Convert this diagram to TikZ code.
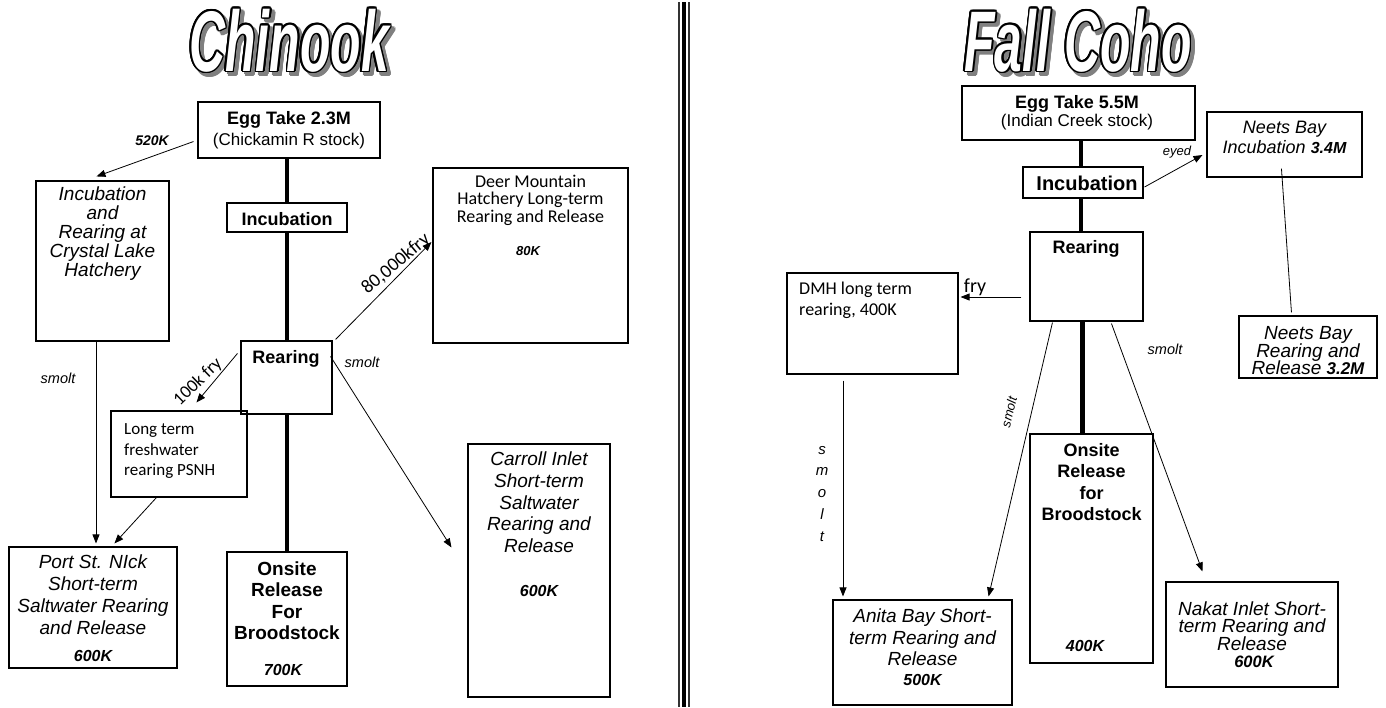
\documentclass[tikz,border=0pt]{standalone}
\usepackage{fontspec}
\setmainfont{Liberation Sans}
\newfontfamily\calfont{Carlito}
\usetikzlibrary{arrows.meta,fit,calc}
\newcommand\fz[1]{\fontsize{#1}{#1}\selectfont}
\newcommand\lines[6][]{\foreach \tx [count=\i from 0] in {#6} {\node[anchor=base,inner sep=0pt,#1] (#2-\i) at (#3,{#4+\i*#5}) {\tx};}}
\newcommand\ttlbox[1]{\scalebox{0.58}[1]{\fz{86}\bfseries\itshape #1}}
\newcommand\ttl[4]{%
  \foreach \a in {0,30,...,330} {\node[anchor=base,inner sep=0pt,text=black!50] (#1-s\a) at ($(#2,#3)+(3.5,3.5)+(\a:1.8pt)$) {\ttlbox{#4}};}
  \foreach \a in {0,22.5,...,337.5} {\node[anchor=base,inner sep=0pt,text=black] (#1-o\a) at ($(#2,#3)+(\a:1.6pt)$) {\ttlbox{#4}};}
  \node[anchor=base,inner sep=0pt,text=white] (#1) at (#2,#3) {\ttlbox{#4}};}
\begin{document}
\begin{tikzpicture}[x=1pt,y=-1pt,
  box/.style={draw=black,line width=1.1pt,inner sep=0pt},
  spine/.style={line width=4.5pt},
  arr/.style={-{Triangle[length=9pt,width=7pt]},line width=0.8pt},
  ln/.style={line width=0.8pt},
  lab/.style={inner sep=0pt}]
\useasboundingbox (0,0) rectangle (1386,707);
% titles
\ttl{tchin}{289}{71}{Chinook}
\ttl{tcoho}{1078}{71}{Fall Coho}
% divider
\draw[line width=1.5pt,black!80] (679.2,2) -- (679.2,707);
\draw[line width=4pt] (684,2) -- (684,707);
\draw[line width=1.5pt,black!80] (688.8,2) -- (688.8,707);
% ---------- left boxes
\node[box,fit={(198,102) (380,158)}] (eggL) {};
\node[box,fit={(36,181) (169,341)}] (crystal) {};
\node[box,fit={(227,203) (347,232)}] (incL) {};
\node[box,fit={(241,341) (332,414)}] (rearL) {};
\node[box,fit={(227,552) (347,686)}] (onsiteL) {};
\node[box,fit={(9,547) (177,668)}] (port) {};
\node[box,fit={(111,411) (247,497)}] (longt) {};
\node[box,fit={(468,444) (610,697)}] (carroll) {};
\node[box,fit={(433,168) (628,343)}] (deer) {};
% ---------- right boxes
\node[box,fit={(962,86) (1195,140)}] (eggR) {};
\node[box,fit={(1023,167) (1143,198)}] (incR) {};
\node[box,fit={(1030,232) (1143,321)}] (rearR) {};
\node[box,fit={(787,273) (958,374)}] (dmh) {};
\node[box,fit={(833,600) (1012,705)}] (anita) {};
\node[box,fit={(1030,434) (1153,663)}] (onsiteR) {};
\node[box,fit={(1166,582) (1338,687)}] (nakat) {};
\node[box,fit={(1207,112) (1362,177)}] (neetsI) {};
\node[box,fit={(1239,316) (1377,378)}] (neetsR) {};
% ---------- spines
\draw[spine] (incL.north |- eggL.south) -- (incL.north);
\draw[spine] (incL.south) -- (incL.south |- rearL.north);
\draw[spine] (incL.south |- rearL.south) -- (incL.south |- onsiteL.north);
\coordinate (spR) at (1081,0);
\coordinate (spR2) at (1082.5,0);
\draw[spine] (spR |- eggR.south) -- (spR |- incR.north);
\draw[spine] (spR |- incR.south) -- (spR |- rearR.north);
\draw[spine] (spR2 |- rearR.south) -- (spR2 |- onsiteR.north);
% ---------- left connectors
\draw[arr] ($(eggL.south west)+(-4,-17)$) -- ($(crystal.north west)+(61,-4)$);
\draw[arr] ($(rearL.north east)+(3,-1)$) -- ($(deer.west)+(-1,-13.5)$);
\draw[arr] ($(rearL.north west)+(-3,13)$) -- ($(longt.north west)+(86,-8)$);
\coordinate (cs) at ($(crystal.south)+(-6.5,0)$);
\draw[arr,shorten >=3pt] (cs) -- (cs |- port.north);
\draw[arr] ($(longt.south west)+(46,0)$) -- ($(port.north west)+(106,-3)$);
\draw[arr] ($(rearL.north east)+(-2,16)$) -- ($(carroll.north west)+(-16,104)$);
% ---------- right connectors
\draw[arr] ($(rearR.west)+(-8,20.5)$) -- ($(dmh.east)+(2,-26.5)$);
\draw[arr] ($(incR.east)+(1,4.5)$) -- ($(neetsI.west)+(-4,10.5)$);
\draw[ln] ($(neetsI.south west)+(75,-9)$) -- ($(neetsR.north west)+(53,-3)$);
\coordinate (ds) at ($(dmh.south)+(-29.5,6)$);
\draw[arr,shorten >=3pt] (ds) -- (ds |- anita.north);
\draw[arr] ($(rearR.south west)+(23,1)$) -- ($(anita.north east)+(-24,-3)$);
\draw[arr] ($(rearR.south west)+(82,2)$) -- ($(nakat.north west)+(37,-10)$);
% ---------- left texts
\node[anchor=base,lab,font={\fz{18}\bfseries}] (eggL-t) at (289,124) {Egg Take 2.3M};
\node[anchor=base,lab,font={\fz{17}}] (eggL-s) at (289,145) {(Chickamin R stock)};
\node[anchor=base,lab,font={\fz{18}\bfseries}] (incL-t) at (287,225) {Incubation};
\node[anchor=base,lab,font={\fz{18}\bfseries}] (rearL-t) at (286,363) {Rearing};
\lines[font={\fz{19}\itshape}]{cr}{102.5}{200}{19}{Incubation,and,Rearing at,Crystal Lake,Hatchery}
\lines[font={\fz{19}\itshape}]{pt}{93}{568.3}{22}{Port St. NIck,Short-term,Saltwater Rearing,and Release}
\node[anchor=base,lab,font={\fz{16}\bfseries\itshape}] (pt-k) at (93,661.7) {600K};
\lines[font={\fz{19}\bfseries}]{onL}{287}{575}{21.5}{Onsite,Release,For,Broodstock}
\node[anchor=base,lab,font={\fz{16}\bfseries\itshape}] (onL-k) at (283,675) {700K};
\lines[font={\fz{17}\calfont},anchor=base west]{lt}{124}{434.5}{20.5}{Long term,freshwater,rearing PSNH}
\lines[font={\fz{19}\itshape}]{ci}{539}{465.7}{21.7}{Carroll Inlet,Short-term,Saltwater,Rearing and,Release}
\node[anchor=base,lab,font={\fz{16}\bfseries\itshape}] (ci-k) at (539,596.7) {600K};
\lines[font={\fz{18}\calfont}]{dm}{530.5}{187.3}{17.5}{Deer Mountain,Hatchery Long-term,Rearing and Release}
\node[anchor=base,lab,font={\fz{13}\bfseries\itshape}] (dm-k) at (528,255.7) {80K};
% left labels
\node[lab,font={\fz{14}\bfseries\itshape}] (l520) at (152,141) {520K};
\node[lab,font={\fz{14.5}\itshape}] (lsm1) at (58,378) {smolt};
\node[lab,font={\fz{19}\calfont},rotate=40] (l80) at (396,264) {80,000kfry};
\node[lab,font={\fz{18}\calfont},rotate=44] (l100) at (198,382) {100k fry};
\node[lab,font={\fz{14.5}\itshape}] (lsm2) at (362,362) {smolt};
% ---------- right texts
\node[anchor=base,lab,font={\fz{18}\bfseries}] (eggR-t) at (1077,108.3) {Egg Take 5.5M};
\node[anchor=base,lab,font={\fz{17}}] (eggR-s) at (1077,126) {(Indian Creek stock)};
\node[anchor=base,lab,font={\fz{20}\bfseries}] (incR-t) at (1087,190) {Incubation};
\node[anchor=base,lab,font={\fz{18}\bfseries}] (rearR-t) at (1086,253.3) {Rearing};
\lines[font={\fz{18}\calfont},anchor=base west]{dh}{799}{294.3}{20.7}{DMH long term,{rearing, 400K}}
\lines[font={\fz{19}\itshape}]{an}{922.5}{622.3}{21.7}{Anita Bay Short-,term Rearing and,Release}
\node[anchor=base,lab,font={\fz{16}\bfseries\itshape}] (an-k) at (922.5,685) {500K};
\lines[font={\fz{18}\bfseries}]{onR}{1091.5}{456}{21.5}{Onsite,Release,for,Broodstock}
\node[anchor=base,lab,font={\fz{16}\bfseries\itshape}] (onR-k) at (1085,651.7) {400K};
\lines[font={\fz{19}\itshape}]{nk}{1252}{615}{17.5}{Nakat Inlet Short-,term Rearing and,Release}
\node[anchor=base,lab,font={\fz{16.5}\bfseries\itshape}] (nk-k) at (1254,667.3) {600K};
\lines[font={\fz{18}\itshape}]{ni}{1284.5}{133.3}{20}{Neets Bay,Incubation {\fz{16}\bfseries 3.4M}}
\lines[font={\fz{19}\itshape}]{nr}{1308}{339.5}{17.5}{Neets Bay,Rearing and,Release {\fz{17}\bfseries 3.2M}}
% right labels
\node[lab,font={\fz{20}\calfont}] (lfry) at (975,287) {fry};
\node[lab,font={\fz{13}\itshape}] (leyed) at (1177,152) {eyed};
\lines[font={\fz{15}\itshape}]{sv}{822}{454}{21.9}{s,m,o,l,t}
\node[lab,font={\fz{13}\itshape},rotate=76.7] (lsm3) at (1009,412) {smolt};
\node[lab,font={\fz{14.5}\itshape}] (lsm4) at (1165,349) {smolt};
\end{tikzpicture}
\end{document}
